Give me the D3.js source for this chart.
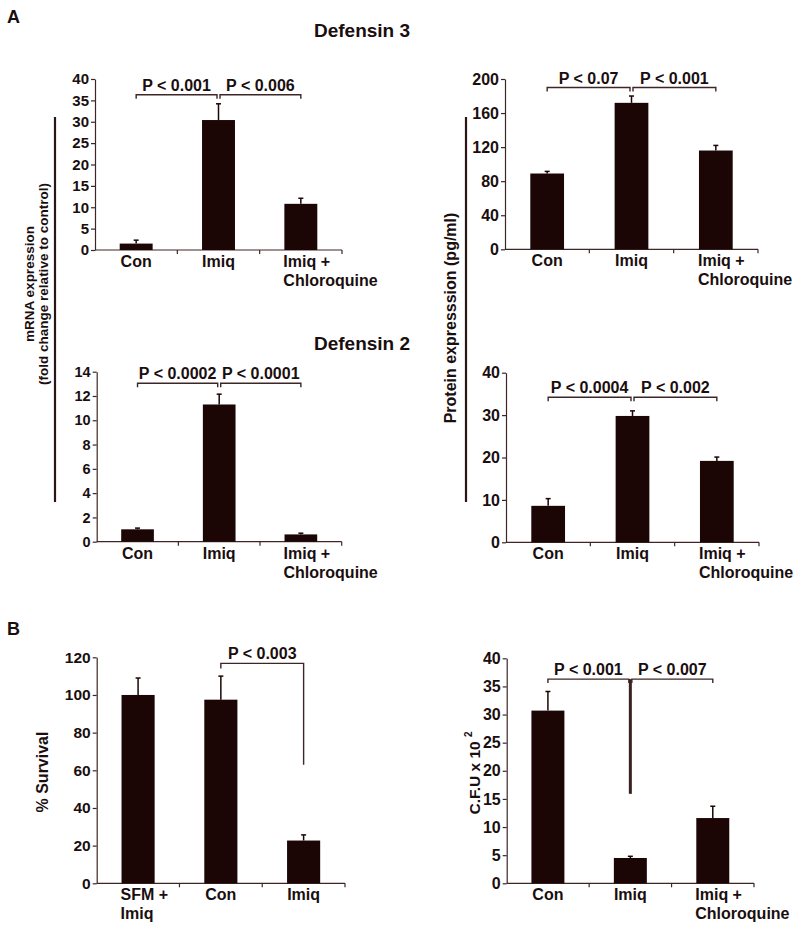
<!DOCTYPE html>
<html>
<head>
<meta charset="utf-8">
<script src="https://cdn.jsdelivr.net/npm/d3@7"></script>
<style>
  body { margin: 0; background: #fff; }
  text { font-family: "Liberation Sans", Arial, sans-serif; font-weight: bold; fill: #1a0e0e; }
</style>
</head>
<body>
<svg id="fig" width="800" height="929"></svg>
<script>
// categorias
var catsTrat = ["Con", "Imiq", "Imiq +\nChloroquine"];
var catsSurv = ["SFM +\nImiq", "Con", "Imiq"];

// Defensin 3
var def3Mrna = [1.5, 30.4, 10.8], def3MrnaErr = [0.8, 3.8, 1.3];
var def3Prot = [89, 172, 116], def3ProtErr = [2.5, 8, 6];
// Defensin 2
var def2Mrna = [1.02, 11.3, 0.6], def2MrnaErr = [0.1, 0.85, 0.1];
var def2Prot = [8.6, 29.8, 19.2], def2ProtErr = [1.7, 1.2, 0.9];
// painel B
var survival = [100, 97.5, 22.7], survivalErr = [9, 12.5, 3];
var cfu = [30.7, 4.5, 11.6], cfuErr = [3.4, 0.3, 2.1];

// ticks
var ticksDef3Mrna = [0, 5, 10, 15, 20, 25, 30, 35, 40];
var ticksDef3Prot = [0, 40, 80, 120, 160, 200];
var ticksDef2Mrna = [0, 2, 4, 6, 8, 10, 12, 14];
var ticksDef2Prot = [0, 10, 20, 30, 40];
var ticksSurv = [0, 20, 40, 60, 80, 100, 120];
var ticksCfu = [0, 5, 10, 15, 20, 25, 30, 35, 40];

// p-valores: [texto, de, ate], nivel do colchete em unidades do eixo
var pDef3Mrna = [["P < 0.001", 0, 1], ["P < 0.006", 1, 2]];
var pDef3Prot = [["P < 0.07", 0, 1], ["P < 0.001", 1, 2]];
var pDef2Mrna = [["P < 0.0002", 0, 1], ["P < 0.0001", 1, 2]];
var pDef2Prot = [["P < 0.0004", 0, 1], ["P < 0.002", 1, 2]];
var pSurv = [["P < 0.003", 1, 2]];
var pCfu = [["P < 0.001", 0, 1], ["P < 0.007", 1, 2]];

var corBarra = "#1c0505", corEixo = "#3e2626";

var svg = d3.select("#fig");

// posicoes de cada painel na figura
var paineis = [
  { cats: catsTrat, v: def3Mrna, e: def3MrnaErr, ticks: ticksDef3Mrna, p: pDef3Mrna, nivel: 36.3,
    x0: 95, x1: 342, yTop: 79, yBot: 250, fs: 15 },
  { cats: catsTrat, v: def3Prot, e: def3ProtErr, ticks: ticksDef3Prot, p: pDef3Prot, nivel: 190,
    x0: 505, x1: 758, yTop: 79, yBot: 249.3, fs: 16 },
  { cats: catsTrat, v: def2Mrna, e: def2MrnaErr, ticks: ticksDef2Mrna, p: pDef2Mrna, nivel: 13.05,
    x0: 96.7, x1: 341.7, yTop: 371.7, yBot: 541.7, fs: 14.5 },
  { cats: catsTrat, v: def2Prot, e: def2ProtErr, ticks: ticksDef2Prot, p: pDef2Prot, nivel: 34.2,
    x0: 506, x1: 759, yTop: 372.7, yBot: 542.3, fs: 16 },
  { cats: catsSurv, v: survival, e: survivalErr, ticks: ticksSurv, p: pSurv, nivel: 116.8,
    inicio: 114, fim: 63, x0: 96.7, x1: 345, yTop: 657.3, yBot: 883.3, fs: 15.5 },
  { cats: catsTrat, v: cfu, e: cfuErr, ticks: ticksCfu, p: pCfu, nivel: 36.3, haste: 15.9,
    x0: 506.7, x1: 754, yTop: 658.3, yBot: 883.3, fs: 16 }
];

paineis.forEach(function(cfg, i) {
  var x = d3.scaleBand().domain(cfg.cats).range([cfg.x0, cfg.x1])
            .paddingInner(0.6).paddingOuter(0.3);
  var y = d3.scaleLinear().domain([0, d3.max(cfg.ticks)]).range([cfg.yBot, cfg.yTop]);
  var g = svg.append("g");

  // eixo y
  var ay = g.append("g")
    .attr("transform", "translate(" + cfg.x0 + ",0)")
    .call(d3.axisLeft(y).tickValues(cfg.ticks).tickSize(4).tickSizeOuter(0).tickPadding(2));
  ay.select(".domain").attr("stroke", corEixo).attr("stroke-width", 1.2);
  ay.selectAll(".tick line").attr("stroke", corEixo).attr("stroke-width", 1.2);
  ay.selectAll(".tick text").style("font-size", cfg.fs + "px").style("font-family", "Liberation Sans, Arial, sans-serif").attr("fill", "#1a0e0e");

  // eixo x com marcas entre categorias
  g.append("line").attr("x1", cfg.x0).attr("x2", cfg.x1)
    .attr("y1", y(0)).attr("y2", y(0)).attr("stroke", corEixo).attr("stroke-width", 1.2);
  d3.range(1, cfg.cats.length + 1).forEach(function(k) {
    var xx = cfg.x0 + x.step() * k;
    g.append("line").attr("x1", xx).attr("x2", xx).attr("y1", y(0)).attr("y2", y(0) + 4)
      .attr("stroke", corEixo).attr("stroke-width", 1.2);
  });

  // barras
  g.selectAll("rect.bar").data(cfg.v).enter().append("rect")
    .attr("class", "bar")
    .attr("x", function(d, j) { return x(cfg.cats[j]); })
    .attr("y", function(d) { return y(d); })
    .attr("width", x.bandwidth())
    .attr("height", function(d) { return y(0) - y(d); })
    .attr("fill", corBarra);

  // barras de erro (so para cima)
  cfg.v.forEach(function(d, j) {
    var cx = x(cfg.cats[j]) + x.bandwidth() / 2;
    var topo = y(d + cfg.e[j]);
    g.append("line").attr("x1", cx).attr("x2", cx).attr("y1", y(d)).attr("y2", topo)
      .attr("stroke", corBarra).attr("stroke-width", 1.5);
    g.append("line").attr("x1", cx - 2.5).attr("x2", cx + 2.5).attr("y1", topo).attr("y2", topo)
      .attr("stroke", corBarra).attr("stroke-width", 1.5);
  });

  // rotulos das categorias
  cfg.cats.forEach(function(c, j) {
    var linhas = c.split("\n");
    var t = g.append("text").style("font-size", "16px")
      .attr("y", y(0) + 17);
    if (linhas.length == 1) {
      t.attr("x", x(c) + x.bandwidth() / 2).attr("text-anchor", "middle").text(c);
    } else {
      linhas.forEach(function(l, k) {
        t.append("tspan").attr("x", x(c) - 1).attr("dy", k == 0 ? 0 : 19).text(l);
      });
    }
  });

  // colchetes com p-valores
  var yb = y(cfg.nivel);
  var cxOf = function(k) { return x(cfg.cats[k]) + x.bandwidth() / 2; };
  if (cfg.inicio !== undefined) {
    // colchete em L invertido (sobrevivencia)
    var a = cxOf(cfg.p[0][1]), b = cxOf(cfg.p[0][2]);
    g.append("path")
      .attr("d", "M" + a + "," + y(cfg.inicio) + "V" + yb + "H" + b + "V" + y(cfg.fim))
      .attr("fill", "none").attr("stroke", corEixo).attr("stroke-width", 1.4);
    g.append("text").attr("x", (a + b) / 2).attr("y", yb - 4).attr("text-anchor", "middle")
      .style("font-size", "16px").text(cfg.p[0][0]);
  } else {
    cfg.p.forEach(function(pp, k) {
      var a = cxOf(pp[1]) + (k == 1 ? 1.5 : 0), b = cxOf(pp[2]) - (k == 0 ? 1.5 : 0);
      g.append("path")
        .attr("d", "M" + a + "," + (yb + 4) + "V" + yb + "H" + b + "V" + (yb + 4))
        .attr("fill", "none").attr("stroke", corEixo).attr("stroke-width", 1.4);
      g.append("text").attr("x", (a + b) / 2).attr("y", yb - 4).attr("text-anchor", "middle")
        .style("font-size", "16px").text(pp[0]);
    });
    if (cfg.haste !== undefined) {
      var hx = cxOf(1);
      g.append("line").attr("x1", hx).attr("x2", hx).attr("y1", yb).attr("y2", y(cfg.haste))
        .attr("stroke", "#3a2020").attr("stroke-width", 3);
    }
  }
});

// titulos e letras
svg.append("text").attr("x", 7).attr("y", 23).style("font-size", "18px").text("A");
svg.append("text").attr("x", 7).attr("y", 635).style("font-size", "18px").text("B");
svg.append("text").attr("x", 362).attr("y", 37).attr("text-anchor", "middle").style("font-size", "19px").text("Defensin 3");
svg.append("text").attr("x", 362).attr("y", 350).attr("text-anchor", "middle").style("font-size", "19px").text("Defensin 2");

// rotulos dos eixos y
svg.append("line").attr("x1", 55).attr("x2", 55).attr("y1", 117).attr("y2", 502)
  .attr("stroke", "#2a1616").attr("stroke-width", 2.2);
svg.append("line").attr("x1", 466).attr("x2", 466).attr("y1", 117).attr("y2", 502)
  .attr("stroke", "#2a1616").attr("stroke-width", 2.2);

function rotulo(txt, bx, cy, fs) {
  return svg.append("text").attr("transform", "translate(" + bx + "," + cy + ") rotate(-90)")
    .attr("text-anchor", "middle").style("font-size", fs + "px").text(txt);
}
rotulo("mRNA expression", 34, 284, 13.5);
rotulo("(fold change relative to control)", 47.5, 284, 13.5);
rotulo("Protein expresssion (pg/ml)", 456, 318, 16);
rotulo("% Survival", 48, 772, 16);
var cfuLab = svg.append("text").attr("transform", "translate(480,773) rotate(-90)")
  .attr("text-anchor", "middle").style("font-size", "15.5px");
cfuLab.append("tspan").text("C.F.U x 10 ");
cfuLab.append("tspan").attr("dy", -8).style("font-size", "10px").text("2");
</script>
</body>
</html>
